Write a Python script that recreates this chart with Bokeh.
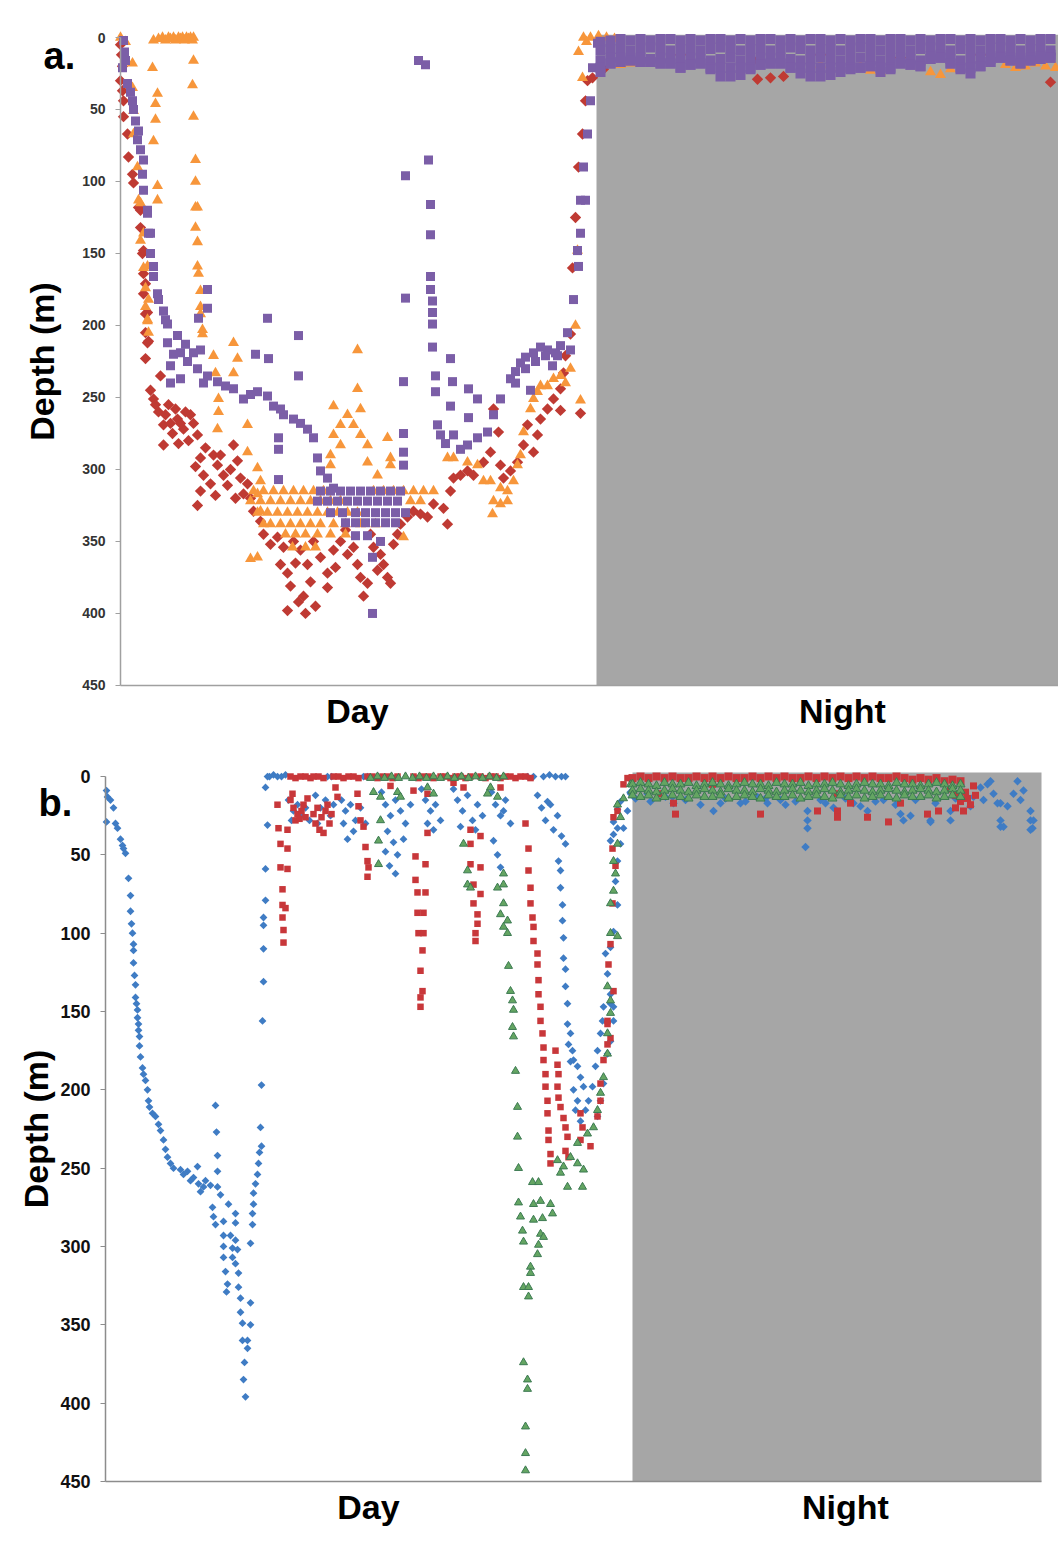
import math
from bokeh.plotting import figure
from bokeh.models import Range1d, FixedTicker, Label
from bokeh.embed import file_html
from bokeh.resources import INLINE

# ---------------- DATA (x = record index, y = depth in m) ----------------
DEPTH_TICKS = [0, 50, 100, 150, 200, 250, 300, 350, 400, 450]
DEPTH_MAX = 450

# Panel a
A_X_MAX = 938
A_NIGHT_START = 476
A_DAY_POS, A_NIGHT_POS = 237, 722

A_RED = [(0,5),(1,12),(2,20),(0,30),(2,37),(3,44),(3,55),(7,67),(8,83),(12,95),(13,101),(18,118),(20,132),(20,120),
 (22,150),(23,148),(23,164),(25,171),(23,178),(25,192),(27,191),(25,205),(28,211),(27,212),(25,223),(40,235),(30,245),
 (33,251),(38,260),(43,269),(43,283),(57,265),(63,272),(70,262),(77,276),(68,280),(50,268),(55,258),(48,255),(35,255),
 (45,262),(52,275),(60,268),(65,260),(73,268),(58,282),(80,292),(83,304),(80,315),(77,325),(93,290),(97,297),(103,304),
 (107,311),(113,283),(117,294),(120,306),(123,317),(130,320),(133,329),(140,336),(143,345),(150,352),(157,347),(163,354),
 (160,366),(167,372),(173,350),(180,356),(183,388),(185,400),(167,398),(170,381),(187,366),(193,350),(200,361),(207,372),
 (207,382),(213,356),(220,350),(227,359),(233,354),(237,366),(240,375),(243,388),(247,379),(253,354),(257,370),(260,359),
 (263,366),(267,375),(270,379),(273,352),(277,345),(280,338),(287,333),(293,329),(300,331),(307,333),(313,324),(323,327),
 (327,338),(330,315),(333,306),(340,304),(347,301),(353,304),(363,295),(370,288),(373,258),(378,274),(380,297),(383,306),
 (390,301),(397,295),(403,283),(407,269),(413,288),(417,276),(420,265),(427,258),(433,251),(440,244),(443,233),(445,221),
 (440,259),(460,261),(450,206),(452,160),(455,125),(458,90),(462,67),(465,44),(467,30),(472,28),(75,298),(85,285),
 (90,310),(100,290),(110,300),(127,310),(115,320),(95,318),(175,365),(190,378),(215,368),(225,342),(250,345),(178,392),
 (195,395)]
A_RED_NIGHT = [(483,22),(633,16),(637,29),(650,28),(663,27),(930,31),(560,12),(700,12),(780,14),(860,12)]

A_ORANGE = [(0,0),(5,3),(12,18),(12,35),(13,51),(13,67),(17,90),(18,113),(20,115),(20,141),(23,136),(23,160),(25,174),
 (25,187),(27,159),(27,197),(28,182),(27,196),(28,205),(32,21),(33,2),(37,39),(35,46),(35,57),(33,72),(37,103),(37,113),
 (38,1),(42,0),(45,2),(48,0),(50,1),(53,0),(55,2),(58,0),(60,1),(62,0),(64,2),(66,0),(68,1),(70,0),(72,2),(73,0),
 (73,16),(72,33),(73,55),(75,85),(75,100),(75,118),(75,132),(77,118),(77,142),(77,159),(78,164),(80,176),(80,187),
 (80,192),(82,203),(82,206),(113,212),(117,223),(113,233),(93,221),(95,233),(98,251),(98,260),(97,272),(127,269),
 (127,288),(137,299),(140,308),(137,317),(140,329),(143,338),(137,361),(130,362),(227,262),(220,269),(233,269),(213,276),
 (240,276),(220,283),(247,283),(213,256),(240,258),(237,244),(237,217),(210,290),(210,297),(247,295),(267,278),(270,292),
 (270,297),(257,304),(283,347),
 (133,315),(143,315),(153,315),(163,315),(173,315),(183,315),(193,315),(203,315),(253,315),(263,315),(273,315),(283,315),
 (293,315),(303,315),(313,315),
 (130,322),(140,322),(150,322),(160,322),(170,322),(180,322),(190,322),(200,322),(210,322),(220,322),(290,322),(300,322),
 (137,330),(147,330),(157,330),(167,330),(177,330),(187,330),(197,330),(207,330),(217,330),(227,330),(237,330),
 (150,338),(160,338),(170,338),(180,338),(190,338),(200,338),(213,338),(225,338),(240,338),(255,338),
 (165,345),(175,345),(185,345),(197,345),(210,345),(225,345),(172,354),(185,354),(195,354),
 (327,292),(333,292),(347,295),(357,297),(363,308),(370,308),(380,313),(387,315),(373,322),(380,324),(387,322),(372,331),
 (393,308),(397,297),(400,290),(403,274),(410,258),(413,251),(417,246),(420,242),(427,242),(433,237),(440,235),(445,240),
 (450,230),(455,200),(457,148),(460,252),(462,28),(463,0),(466,3),(458,10)]
A_ORANGE_NIGHT = [(470,0),(478,-1),(486,0),(494,1),(500,19),(510,18),(520,18),(740,20),(750,23),(760,24),(800,20),
 (810,24),(820,26),(830,22),(885,19),(895,21),(905,20),(915,18),(925,20),(935,21),(700,19),(720,21)]

A_PURPLE = [(3,2),(2,21),(7,32),(12,44),(15,58),(17,71),(23,85),(22,95),(23,106),(27,122),(28,136),(30,150),(33,166),
 (37,178),(43,190),(47,199),(27,120),(30,136),(33,159),(38,182),(45,196),(4,10),(5,16),(10,38),(13,50),(18,65),(20,78),
 (57,207),(47,212),(60,219),(73,219),(80,217),(50,228),(60,237),(53,220),(67,225),(77,230),(83,240),(50,240),(65,213),
 (87,235),(97,239),(113,244),(123,251),(137,246),(147,249),(153,256),(163,262),(173,265),(187,272),(193,278),(197,292),
 (200,301),(207,306),(213,313),(105,242),(130,248),(160,258),(180,268),
 (87,175),(87,188),(78,195),(147,195),(178,207),(135,220),(148,223),(178,235),(158,278),(158,286),(158,307),(252,400),
 (252,361),(283,275),(283,239),(283,288),(283,297),(285,181),(310,116),(310,137),(310,166),(310,175),(312,183),(312,191),
 (312,199),(312,215),(315,235),(315,246),(330,223),(332,239),(330,256),(348,244),(357,251),(348,264),(298,16),(305,19),
 (308,85),(285,96),
 (200,315),(210,315),(220,315),(230,315),(240,315),(250,315),(260,315),(270,315),(280,315),
 (197,322),(207,322),(217,322),(227,322),(237,322),(247,322),(257,322),(267,322),(277,322),
 (210,330),(222,330),(235,330),(245,330),(255,330),(265,330),(275,330),(285,330),
 (225,337),(235,337),(245,337),(255,337),(265,337),(275,337),(235,346),(247,346),(260,350),
 (317,269),(320,276),(333,276),(347,283),(357,278),(367,274),(373,262),(380,251),(390,237),(400,226),(413,219),(427,217),
 (437,221),(440,214),(447,205),(453,182),(458,159),(460,136),(465,113),(450,217),(457,148),(460,113),(463,90),(467,67),
 (470,44),(472,21),(477,4),(325,282),(340,286),(395,232),(405,222),(420,215),(432,228),(395,240),(405,230),(415,225),
 (425,221),(435,219),(410,245)]

A_NIGHT_X = [480,490,500,510,520,530,540,550,560,570, 580,590,600,610,620,630,640,650,660,670,
             680,690,700,710,720,730,740,750,760,770, 780,790,800,810,820,830,840,850,860,870,
             880,890,900,910,920,930]
A_PURPLE_N_TOP = [3,2,1,2,1,2,1,1,2,1, 2,1,1,2,1,2,1,1,2,1, 2,1,1,2,1,2,1,1,2,1, 1,2,1,2,1,1,2,1,2,1, 1,2,1,2,1,1]
A_PURPLE_N_MID = [9,8,8,9,8,7,8,9,8,8, 9,8,7,8,9,8,8,9,8,7, 8,9,8,8,9,8,7,8,9,8, 8,9,8,7,8,9,8,8,9,8, 7,8,9,8,8,9]
A_PURPLE_N_LOW = [16,14,14,15,14,15,14,15,15,14, 15,16,15,14,16,15,14,15,14,15, 16,15,14,15,16,15,14,15,16,15,
                  14,15,16,13,12,15,16,15,14,15, 13,14,15,14,13,12]
A_PURPLE_N_R4 = [21,18,17,16,17,17,18,18,21,19, 18,21,21,21,21,21,19,18,18,21, 21,21,21,21,21,21,21,20,21,21,
                 18,19,20,15,14,18,21,21,20,17, 14,16,18,16,15,14]
A_PURPLE_N_FRINGE = [24,18,17,16,17,17,18,18,21,19, 18,22,27,27,26,22,19,18,18,21, 25,27,27,26,24,22,21,20,24,22,
                     18,19,20,15,14,18,22,25,20,17, 14,16,18,16,15,14]

# Panel b
B_X_MAX = 936
B_NIGHT_START = 527
B_DAY_POS, B_NIGHT_POS = 263, 740

B_BLUE = [(1,9),(2,13),(5,15),(8,20),(1,29),(10,30),(12,33),(15,40),(17,44),(20,49),(18,46),(23,65),(25,76),(25,86),
 (26,94),(27,100),(28,107),(28,111),(28,119),(29,127),(30,133),(30,141),(31,145),(32,149),(32,154),(33,158),(33,162),
 (34,166),(34,172),(35,179),(37,186),(38,190),(40,194),(42,200),(43,207),(44,211),(47,215),(50,217),(53,222),(55,226),
 (58,232),(60,238),(62,243),(65,247),(68,250),(75,251),(82,252),(88,256),(93,260),(98,262),(95,265),(105,261),(112,262),
 (92,249),(110,210),(111,227),(112,242),(112,252),(115,267),(107,275),(108,281),(110,286),(118,284),(123,273),(130,279),
 (130,285),(118,293),(125,293),(130,296),(118,300),(127,301),(118,307),(127,307),(130,311),(132,302),(120,316),(122,324),
 (121,329),(133,317),(133,326),(135,333),(145,336),(135,342),(137,349),(145,350),(137,360),(142,360),(142,365),(139,374),
 (138,385),(140,396),(78,254),(85,258),(100,258),
 (157,156),(156,197),(155,224),(156,236),(154,240),(153,247),(152,254),(150,260),(148,266),(148,273),(147,279),(147,286),
 (145,298),(162,0),(160,7),(162,31),(160,59),(160,79),(158,90),(158,95),(158,110),(158,131),
 (164,0),(168,-1),(172,0),(176,0),(180,-1),(222,0),(226,0),(258,0),(262,0),(422,0),(428,0),(438,0),(444,-1),(450,0),
 (456,0),(460,0),
 (183,15),(188,22),(192,18),(196,25),(200,20),(204,28),(186,28),(210,12),(215,20),(220,15),(225,25),(212,30),(228,18),
 (236,15),(240,22),(245,18),(250,28),(248,35),(242,40),(255,20),(260,30),(238,30),(276,10),(280,18),(285,25),(290,15),
 (295,22),(300,30),(305,18),(282,35),(288,42),(292,50),(284,57),(298,40),(290,62),(280,48),(316,8),(320,15),(325,22),
 (330,18),(335,28),(322,30),(328,34),(348,8),(352,15),(357,22),(362,12),(367,28),(372,18),(377,25),(355,32),(370,34),
 (386,10),(390,18),(395,25),(400,15),(405,30),(398,22),(388,41),(392,50),(395,58),(432,12),(436,20),(440,28),(445,18),
 (448,34),(452,25),(456,38),(460,43),(442,16),
 (453,54),(455,60),(455,71),(457,82),(457,92),(458,103),(458,116),(460,123),(460,134),(462,145),(462,158),(463,171),
 (465,182),(465,164),(467,175),(468,181),(472,185),(475,192),(478,198),(468,200),(472,207),(470,213),(475,220),(480,213),
 (483,207),(487,198),(490,185),(492,175),(495,164),(497,156),(498,147),(505,145),(508,156),(505,169),(502,177),(498,196),
 (495,207),(492,217),(505,41),(508,37),(512,33),(508,29),(512,21),(515,16),(500,113),(502,126),(505,139),(508,147),
 (505,109),(508,99),(512,82),(510,67),(512,54),(515,43),(518,33),(522,22),(525,11)]
B_BLUE_NIGHT = [(525,10),(542,11),(567,13),(568,17),(608,22),(615,17),(635,17),(652,13),(662,17),(675,15),(702,22),
 (702,28),(702,33),(700,45),(715,15),(728,20),(748,17),(762,22),(778,15),(795,24),(798,28),(825,28),(845,22),(845,28),
 (882,5),(888,11),(895,17),(895,28),(895,32),(908,11),(912,3),(918,9),(925,22),(925,28),(925,34),(805,25),(825,29),
 (855,5),(875,7),(885,3),(892,17),(898,32),(902,19),(915,15),(928,28),(927,33),(878,15),(868,13),(865,19),
 (530,14),(545,16),(560,13),(580,15),(595,18),(620,14),(640,16),(660,14),(680,18),(690,16),(720,17),(740,14),(755,19),
 (770,16),(790,18),(810,15),(830,17),(850,14)]

B_RED = [(185,0),(190,1),(195,0),(200,0),(205,1),(208,0),(213,0),(218,1),(228,0),(233,0),(238,1),(243,0),(248,0),
 (253,1),(262,0),(267,0),(272,1),(277,0),(282,0),(287,1),(292,0),(308,0),(313,1),(318,0),(323,0),(328,1),(335,0),
 (340,0),(345,1),(350,0),(355,0),(360,1),(365,0),(375,0),(380,1),(385,0),(390,0),(395,1),(400,0),(405,0),(410,1),
 (415,0),(420,0),(425,1),
 (172,18),(173,33),(175,43),(175,58),(177,72),(177,82),(177,90),(178,98),(178,106),(182,34),(182,46),(182,59),(180,84),
 (185,15),(187,11),(202,14),(188,20),(192,24),(196,22),(200,26),(190,28),(198,18),(194,27),(212,20),(216,26),(220,22),
 (224,30),(214,34),(218,36),(226,24),(222,18),(208,24),(210,30),
 (230,7),(232,13),(252,11),(253,19),(255,28),(258,32),(260,45),(262,54),(262,64),(263,58),(285,6),(308,9),(322,11),
 (322,36),(310,51),(320,56),(310,66),(312,74),(320,74),(312,87),(318,87),(313,100),(318,100),(317,111),(315,124),
 (317,137),(315,141),(315,147),(348,4),(358,7),(365,34),(375,38),(365,43),(365,56),(375,58),(368,69),(375,75),(368,81),
 (372,88),(372,94),(370,100),(370,105),(395,7),(420,30),(423,46),(423,60),(425,71),(425,81),(427,90),(428,96),(428,105),
 (432,113),(432,120),(433,130),(433,139),(435,147),(435,156),(437,164),(438,173),(450,175),(438,181),(440,190),
 (440,198),(442,207),(442,215),(443,226),(443,232),(445,241),(445,247),(452,184),(453,190),(452,198),(453,205),
 (455,211),(458,218),(460,224),(462,230),(460,239),(463,243),(475,215),(477,224),(475,232),(485,236),(492,217),
 (495,207),(495,196),(498,181),(502,171),(502,158),(507,46),(508,26),(512,22),(510,57),(507,81),(505,107),(503,120),
 (508,137),(502,156),(505,167),(518,5),(522,1)]
B_RED_NIGHT = [(568,17),(570,24),(553,11),(655,24),(712,22),(732,11),(732,22),(732,26),(745,17),(762,26),(783,29),
 (795,17),(822,24),(833,22),(845,8),(850,12),(855,16),(860,10),(865,18),(868,6),(850,20),(858,22),(862,14),(870,12),
 (607,5)]

B_GREEN = [(265,1),(272,0),(279,1),(286,0),(293,1),(300,0),(307,1),(314,0),(321,1),(328,0),(335,1),(342,0),(349,1),
 (356,0),(363,1),(370,0),(377,1),(384,0),(391,1),(398,0),
 (268,10),(275,13),(275,28),(273,41),(273,56),(292,10),(295,13),(322,7),(328,11),(358,43),(362,60),(362,69),(365,71),
 (382,11),(385,7),(392,13),(392,71),(398,62),(398,69),(398,81),(395,88),(402,92),(398,96),(402,100),(403,121),(405,137),
 (407,143),(408,149),(407,160),(408,166),(410,188),(412,211),(412,230),(413,250),(427,259),(433,259),(413,272),(428,273),
 (435,271),(445,273),(447,279),(415,281),(417,290),(418,297),(428,283),(437,282),(435,292),(438,294),(433,299),(432,305),
 (425,313),(425,317),(418,326),(423,326),(423,332),(418,374),(422,385),(422,391),(420,415),(420,432),(420,443),
 (452,245),(458,249),(465,243),(472,247),(478,251),(455,253),(462,262),(477,262),(472,234),(482,228),(488,224),
 (492,213),(495,202),(498,192),(502,177),(502,164),(505,151),(512,43),(510,62),(508,73),(505,81),(505,100),(512,102),
 (502,134),(505,143),(508,54),(515,26),(512,18),(518,14),(525,5)]

B_NIGHT_X = [527,535,543,551,559,567,575,583,591,599, 607,615,623,631,639,647,655,663,671,679,
             687,695,703,711,719,727,735,743,751,759, 767,775,783,791,799,807,815,823,831,839, 847,855]
B_RED_N_TOP = [1,0,1,0,1,0,1,1,0,1, 0,1,0,1,1,0,1,0,1,0, 1,1,0,1,0,1,0,1,0,1, 0,1,1,0,1,2,1,2,1,3, 2,3]
B_GREEN_N_R1 = [5,4,5,6,4,5,5,4,6,5, 4,5,6,5,4,5,5,6,4,5, 5,4,6,5,5,4,5,6,5,4, 5,5,6,4,5,5,6,5,4,5, 6,5]
B_GREEN_N_R2 = [9,8,9,10,9,8,9,10,9,8, 9,10,8,9,9,10,8,9,10,9, 8,9,10,9,8,9,10,9,8,9, 10,9,8,9,10,9,8,9,10,9, 8,9]
B_GREEN_N_R3 = [12,13,12,14,13,12,13,14,12,13, 13,12,14,13,12,13,14,12,13,13, 12,14,13,12,13,14,12,13,12,14,
                13,12,13,14,12,13,13,12,14,13, 12,13]

# ---------------- STYLE / VIEW WINDOWS ----------------
FONT = "Liberation Sans"
GREY = "#a6a6a6"
A_RED_C, A_ORANGE_C, A_PURPLE_C = "#bf3a33", "#f7963b", "#7b5ea7"
B_BLUE_C, B_RED_C, B_GREEN_C, B_GREEN_EDGE = "#3f7cc4", "#c8373a", "#64a562", "#3c7a52"

# visible window of each panel (data units) so that the frame covers the whole canvas
A_VIEW_X = (-120, 938)
A_VIEW_Y = (491.7, -25.7)
B_VIEW_X = (-105, 953)
B_VIEW_Y = (487.7, -19.8)


def xs(pairs):
    return [p[0] for p in pairs]


def ys(pairs):
    return [p[1] for p in pairs]


def base_fig(w, h, view_x, view_y, xmax, axis_color, lab_size, lab_color, day_pos, night_pos, title_standoff):
    p = figure(width=w, height=h, output_backend="svg", toolbar_location=None,
               x_range=Range1d(*view_x), y_range=Range1d(*view_y))
    p.min_border = 0
    p.min_border_left = 0
    p.min_border_right = 0
    p.min_border_top = 0
    p.min_border_bottom = 0
    p.outline_line_color = None
    p.xgrid.visible = False
    p.ygrid.visible = False
    p.background_fill_color = "white"
    p.border_fill_color = "white"

    ya = p.yaxis[0]
    ya.fixed_location = 0
    ya.bounds = (0, DEPTH_MAX)
    ya.ticker = FixedTicker(ticks=DEPTH_TICKS)
    ya.axis_line_color = axis_color
    ya.axis_line_width = 1.5
    ya.major_tick_line_color = axis_color
    ya.major_tick_out = 5
    ya.major_tick_in = 0
    ya.minor_tick_line_color = None
    ya.major_label_text_font = FONT
    ya.major_label_text_font_size = lab_size
    ya.major_label_text_font_style = "bold"
    ya.major_label_text_color = lab_color
    ya.major_label_standoff = 10
    ya.axis_label = "Depth (m)"
    ya.axis_label_text_font = FONT
    ya.axis_label_text_font_size = "34px"
    ya.axis_label_text_font_style = "bold"
    ya.axis_label_text_color = "black"
    ya.axis_label_standoff = title_standoff

    xa = p.xaxis[0]
    xa.fixed_location = DEPTH_MAX
    xa.bounds = (0, xmax)
    xa.ticker = FixedTicker(ticks=[day_pos, night_pos])
    xa.major_label_overrides = {day_pos: "Day", night_pos: "Night"}
    xa.axis_line_color = axis_color
    xa.axis_line_width = 1.5
    xa.major_tick_line_color = None
    xa.minor_tick_line_color = None
    xa.major_label_text_font = FONT
    xa.major_label_text_font_size = "34px"
    xa.major_label_text_font_style = "bold"
    xa.major_label_text_color = "black"
    xa.major_label_standoff = 1
    return p


# ---------------- PANEL A ----------------
pa = base_fig(1058, 745, A_VIEW_X, A_VIEW_Y, A_X_MAX, "#a0a0a0", "14px", "#333333", A_DAY_POS, A_NIGHT_POS, 18)
pa.quad(left=[A_NIGHT_START], right=[A_X_MAX], top=[-2], bottom=[DEPTH_MAX], fill_color=GREY, line_color=None,
        level="underlay")

pa.scatter(xs(A_RED), ys(A_RED), marker="square", angle=math.pi / 4, size=8, fill_color=A_RED_C, line_color=None)
pa.scatter(xs(A_RED_NIGHT), ys(A_RED_NIGHT), marker="square", angle=math.pi / 4, size=8, fill_color=A_RED_C,
           line_color=None)
pa.scatter(xs(A_ORANGE), ys(A_ORANGE), marker="triangle", size=11, fill_color=A_ORANGE_C, line_color=None)
pa.scatter(xs(A_ORANGE_NIGHT), ys(A_ORANGE_NIGHT), marker="triangle", size=11, fill_color=A_ORANGE_C, line_color=None)
pa.scatter(xs(A_PURPLE), ys(A_PURPLE), marker="square", size=9, fill_color=A_PURPLE_C, line_color=None)
for row in (A_PURPLE_N_TOP, A_PURPLE_N_MID, A_PURPLE_N_LOW, A_PURPLE_N_R4, A_PURPLE_N_FRINGE):
    pa.scatter(A_NIGHT_X, row, marker="square", size=10, fill_color=A_PURPLE_C, line_color=None)

pa.add_layout(Label(x=-77, y=12.5, text="a.", text_font=FONT, text_font_style="bold", text_font_size="38px",
                    text_align="left", text_baseline="alphabetic", text_color="black"))

# ---------------- PANEL B ----------------
pb = base_fig(1058, 795, B_VIEW_X, B_VIEW_Y, B_X_MAX, "#8c8c8c", "18px", "#111111", B_DAY_POS, B_NIGHT_POS, 2)
pb.quad(left=[B_NIGHT_START], right=[B_X_MAX], top=[-2.5], bottom=[DEPTH_MAX], fill_color=GREY, line_color=None,
        level="underlay")

pb.scatter(xs(B_BLUE), ys(B_BLUE), marker="square", angle=math.pi / 4, size=5.5, fill_color=B_BLUE_C,
           line_color=None)
pb.scatter(xs(B_BLUE_NIGHT), ys(B_BLUE_NIGHT), marker="square", angle=math.pi / 4, size=6, fill_color=B_BLUE_C,
           line_color=None)
pb.scatter(xs(B_RED), ys(B_RED), marker="square", size=6.5, fill_color=B_RED_C, line_color=None)
pb.scatter(xs(B_RED_NIGHT), ys(B_RED_NIGHT), marker="square", size=7, fill_color=B_RED_C, line_color=None)
pb.scatter(B_NIGHT_X, B_RED_N_TOP, marker="square", size=8, fill_color=B_RED_C, line_color=None)
pb.scatter(xs(B_GREEN), ys(B_GREEN), marker="triangle", size=8, fill_color=B_GREEN_C, line_color=B_GREEN_EDGE,
           line_width=1)
for row in (B_GREEN_N_R1, B_GREEN_N_R2, B_GREEN_N_R3):
    pb.scatter(B_NIGHT_X, row, marker="triangle", size=9, fill_color=B_GREEN_C, line_color=B_GREEN_EDGE,
               line_width=1)

pb.add_layout(Label(x=-67, y=17, text="b.", text_font=FONT, text_font_style="bold", text_font_size="38px",
                    text_align="left", text_baseline="alphabetic", text_color="black"))

open("out.html", "w").write(file_html([pa, pb], INLINE))
